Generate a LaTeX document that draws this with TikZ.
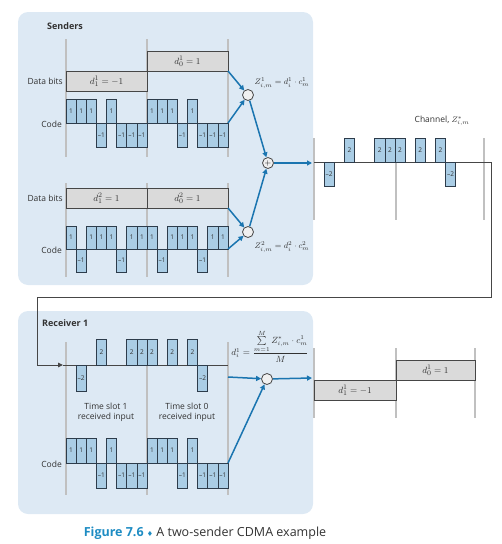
\documentclass[tikz,border=0pt]{standalone}
\usepackage{amsmath}
\usepackage{fontspec}
\setmainfont{Open Sans}
\newfontfamily\symfont{DejaVu Sans}
\usetikzlibrary{arrows.meta}

\definecolor{panelblue}{RGB}{221,233,244}
\definecolor{chipblue}{RGB}{170,205,229}
\definecolor{chipedge}{RGB}{45,60,75}
\definecolor{bitgray}{RGB}{218,218,218}
\definecolor{bitedge}{RGB}{70,70,70}
\definecolor{flowblue}{RGB}{26,117,176}
\definecolor{slotgray}{RGB}{192,192,192}
\definecolor{captionblue}{RGB}{30,140,195}
\definecolor{textgray}{RGB}{50,50,50}

\newcommand{\chipw}{10.125}
% row of chips: start x, baseline, height, values
\newcommand{\chiprow}[4]{%
  \foreach \v [count=\k from 0] in {#4} {
    \pgfmathsetmacro{\xa}{#1+\k*\chipw}
    \pgfmathsetmacro{\xb}{\xa+\chipw}
    \pgfmathsetmacro{\xm}{\xa+\chipw/2}
    \ifnum\v>0
      \draw[chip] (\xa,#2) rectangle (\xb,{#2-#3});
      \node[chiplabel] at (\xm,{#2-#3/2}) {\v};
    \fi
    \ifnum\v<0
      \draw[chip] (\xa,#2) rectangle (\xb,{#2+#3});
      \node[chiplabel] at (\xm,{#2+#3/2}) {\textendash\the\numexpr-\v\relax};
    \fi
  }}

\begin{document}
\begin{tikzpicture}[x=1pt, y=-1pt,
    panel/.style={fill=panelblue, draw=none, rounded corners=10pt},
    slot/.style={draw=slotgray, line width=1.5pt},
    chip/.style={fill=chipblue, draw=chipedge, line width=0.7pt},
    chiplabel/.style={text=textgray, font=\fontsize{6.5}{7}\selectfont, inner sep=0pt},
    bitbox/.style={fill=bitgray, draw=bitedge, line width=0.8pt, inner sep=0pt, outer sep=0pt,
      minimum height=20pt, text=textgray, font=\fontsize{9.5}{11}\selectfont},
    mult/.style={circle, draw=bitedge, fill=bitgray!40, line width=0.8pt, minimum size=11pt, inner sep=0pt},
    flow/.style={draw=flowblue, line width=1.5pt, -{Triangle[length=5pt,width=5pt]}},
    wire/.style={draw=bitedge, line width=1pt},
    lbl/.style={text=textgray, font=\fontsize{8.5}{10}\selectfont, inner sep=0pt},
    head/.style={text=textgray, font=\fontsize{9}{10}\selectfont\bfseries, inner sep=0pt, anchor=west}]
\useasboundingbox (0,0) rectangle (502,544);

% panels
\fill[panel] (18,12) rectangle (313,285);
\fill[panel] (18,311) rectangle (313,514);
\node[head] (senders) at (47,26) {Senders};
\node[head] (receiver) at (42,323) {Receiver 1};

% time slot lines
\foreach \x in {66,147,228} {
  \draw[slot] (\x,39) -- (\x,157);
  \draw[slot] (\x,183) -- (\x,277);
  \draw[slot] (\x,342) -- (\x,495);
}
\foreach \x in {314,396,484} \draw[slot] (\x,138) -- (\x,220);
\foreach \x in {314,396,475} \draw[slot] (\x,348) -- (\x,418);

% sender 1
\node[lbl, anchor=east] (bits1) at (63,81) {Data bits};
\node[lbl, anchor=east] (code1) at (62,124) {Code};
\node[bitbox, minimum width=81pt] (d11) at (106.5,81) {$d^1_1 = -1$};
\node[bitbox, minimum width=81pt] (d01) at (187.5,61) {$d^1_0 = 1$};
\chiprow{66}{123}{24}{1,1,1,-1,1,-1,-1,-1,1,1,1,-1,1,-1,-1,-1}

% sender 2
\node[lbl, anchor=east] (bits2) at (63,198) {Data bits};
\node[lbl, anchor=east] (code2) at (62,250) {Code};
\node[bitbox, minimum width=81pt] (d12) at (106.5,198.5) {$d^2_1 = 1$};
\node[bitbox, minimum width=81pt] (d02) at (187.5,198.5) {$d^2_0 = 1$};
\chiprow{66}{249}{23}{1,-1,1,1,1,-1,1,1,1,-1,1,1,1,-1,1,1}

% encoders and sum
\coordinate (d1end) at (228,71);
\coordinate (c1end) at (228,123);
\coordinate (d2end) at (228,208);
\coordinate (c2end) at (228,249);
\node[mult] (m1) at (248,95) {};
\node[mult] (m2) at (248,232) {};
\node[mult] (sum) at (268,163) {\fontsize{8}{8}\selectfont$+$};
\draw[flow] (d1end) -- (m1);
\draw[flow] (c1end) -- (m1);
\draw[flow] (d2end) -- (m2);
\draw[flow] (c2end) -- (m2);
\draw[flow] (m1) -- (sum);
\draw[flow] (m2) -- (sum);
\coordinate (chin) at (312,163);
\draw[flow] (sum) -- (chin);
\node[lbl, font=\fontsize{8.5}{10}\selectfont] (z1) at (282,83) {$Z^1_{i,m} = d^1_i \cdot c^1_m$};
\node[lbl, font=\fontsize{8.5}{10}\selectfont] (z2) at (282,247) {$Z^2_{i,m} = d^2_i \cdot c^2_m$};

% channel
\node[lbl] (chlabel) at (442,121) {Channel, $Z^*_{i,m}$};
\coordinate (chstart) at (314,162);
\coordinate (chend) at (491,162);
\coordinate (loopa) at (491,297);
\coordinate (loopb) at (37,297);
\coordinate (loopc) at (37,365);
\coordinate (rxtip) at (63,365);
\coordinate (rxend) at (228,365);
\draw[wire] (chstart) -- (chend);
\chiprow{314}{162}{24}{0,-2,0,2,0,0,2,2,2,0,2,0,2,-2,0,0}
\draw[wire, -{Triangle[length=5pt,width=4.5pt]}] (chend) -- (loopa) -- (loopb) -- (loopc) -- (rxtip);

% receiver
\draw[wire] (rxtip) -- (rxend);
\chiprow{66}{365}{26}{0,-2,0,2,0,0,2,2,2,0,2,0,2,-2,0,0}
\node[lbl, align=center] (slot1) at (106,412) {Time slot 1\\received input};
\node[lbl, align=center] (slot0) at (187,412) {Time slot 0\\received input};
\node[lbl, anchor=east] (code3) at (62,464) {Code};
\chiprow{66}{463}{25}{1,1,1,-1,1,-1,-1,-1,1,1,1,-1,1,-1,-1,-1}
\node[lbl, font=\fontsize{9}{10}\selectfont] (decode) at (270,346)
  {$d^1_i = \dfrac{\sum\limits_{m=1}^{M} Z^*_{i,m}\cdot c^1_m}{M}$};
\coordinate (rxout) at (228,377);
\coordinate (c3end) at (228,463);
\node[mult] (m3) at (267,379) {};
\draw[flow] (rxout) -- (m3);
\draw[flow] (c3end) -- (m3);
\coordinate (dout) at (312,378);
\draw[flow] (m3) -- (dout);

% recovered bits
\node[bitbox, minimum width=82pt] (r1) at (355,390) {$d^1_1 = -1$};
\node[bitbox, minimum width=79pt] (r0) at (435.5,370) {$d^1_0 = 1$};

% caption
\node[inner sep=0pt, font=\fontsize{12.5}{14}\selectfont] (caption) at (205,533)
  {{\bfseries\color{captionblue}Figure 7.6} {\color{captionblue}\symfont\fontsize{7}{7}\selectfont ♦} {\color{textgray}A two-sender CDMA example}};
\end{tikzpicture}
\end{document}
